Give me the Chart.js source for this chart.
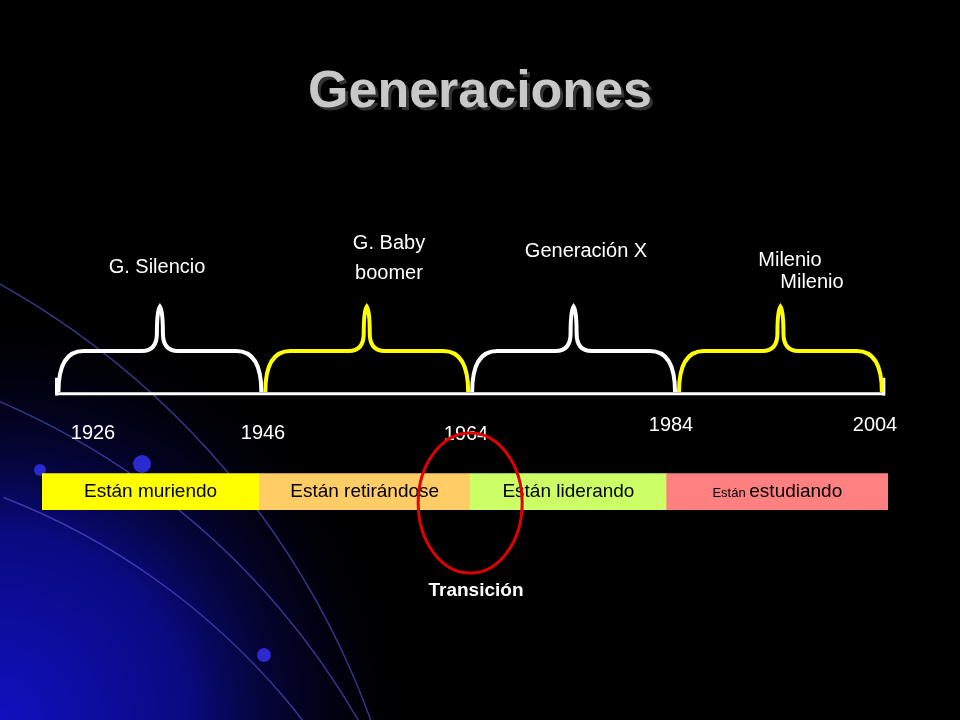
<!DOCTYPE html>
<html><head><meta charset="utf-8">
<script src="https://cdn.jsdelivr.net/npm/chart.js@4"></script>
<style>html,body{margin:0;padding:0;background:#000}canvas{display:block}</style>
</head><body>
<canvas id="c" width="960" height="720" style="width:960px;height:720px"></canvas>
<script>
const years = ['1926','1946','1964','1984','2004'];
const generations = [['G. Silencio'],['G. Baby','boomer'],['Generación X'],['Milenio','Milenio']];
const stages = ['Están muriendo','Están retirándose','Están liderando','Están estudiando'];
const stageStart = [-0.07, 0.98, 2.0, 2.95];
const stageEnd = [0.98, 2.0, 2.95, 4.02];
const stageColors = ['#FFFF00','#FFCC66','#CCFF66','#FF8080'];
const braceColors = ['#FFFFFF','#FFFF00','#FFFFFF','#FFFF00'];
const transitionLabel = 'Transición';
const title = 'Generaciones';

const F = 'Liberation Sans, Arial, sans-serif';
const deco = {
  id:'deco',
  beforeDraw(ch){
    const c=ch.ctx;
    c.save();
    c.fillStyle='#000';c.fillRect(0,0,960,720);
    let g=c.createRadialGradient(0,720,0,0,720,420);
    g.addColorStop(0,'#1010c0');g.addColorStop(0.45,'#0a0a80');g.addColorStop(1,'rgba(0,0,0,0)');
    c.fillStyle=g;c.fillRect(0,250,500,470);
    c.strokeStyle='rgba(90,90,220,0.6)';c.lineWidth=1.5;
    [[-300,1100,760],[-250,1150,700],[-400,1000,820]].forEach(a=>{c.beginPath();c.arc(a[0],a[1],a[2],-1.2,-0.2);c.stroke();});
    c.fillStyle='#2a2ad0';
    [[40,470,6],[142,464,9],[264,655,7]].forEach(d=>{c.beginPath();c.arc(d[0],d[1],d[2],0,7);c.fill();});
    c.restore();
  },
  afterDatasetsDraw(ch){
    const c=ch.ctx, x=ch.scales.x, y=ch.scales.y;
    const X=v=>x.getPixelForValue(v), Y=v=>y.getPixelForValue(v);
    c.save();
    c.font='bold 52px '+F;c.textAlign='center';c.textBaseline='middle';
    c.fillStyle='#333';c.fillText(title,483,96);
    c.fillStyle='#c8c8c8';c.fillText(title,480,93);
    c.strokeStyle='#fff';c.lineWidth=3;
    c.beginPath();c.moveTo(X(0),Y(398));c.lineTo(X(4),Y(398));c.stroke();
    [0,4].forEach(i=>{c.beginPath();c.moveTo(X(i),Y(380));c.lineTo(X(i),Y(400));c.stroke();});
    for(let i=0;i<4;i++){
      const a=X(i)+2,b=X(i+1)-2,m=(a+b)/2;
      c.strokeStyle=braceColors[i];c.lineWidth=4;c.beginPath();
      c.moveTo(a,Y(396));c.quadraticCurveTo(a,Y(350),a+25,Y(350));
      c.lineTo(m-18,Y(350));c.quadraticCurveTo(m-3,Y(350),m-3,Y(330));
      c.quadraticCurveTo(m-3,Y(305),m,Y(300));
      c.quadraticCurveTo(m+3,Y(305),m+3,Y(330));
      c.quadraticCurveTo(m+3,Y(350),m+18,Y(350));
      c.lineTo(b-25,Y(350));c.quadraticCurveTo(b,Y(350),b,Y(396));
      c.stroke();
    }
    c.fillStyle='#fff';c.font='20px '+F;
    const gpos=[[157,[267]],[389,[243,273]],[586,[251]],[790,[260]]];
    generations.forEach((g,i)=>{
      g.forEach((t,j)=>{
        if(i===3&&j===1){c.fillText(t,812,282);}
        else c.fillText(t,gpos[i][0],gpos[i][1][j]);
      });
    });
    const ypos=[[93,433],[263,433],[466,434],[671,425],[875,425]];
    years.forEach((t,i)=>c.fillText(t,ypos[i][0],ypos[i][1]));
    c.fillStyle='#000';
    for(let i=0;i<4;i++){
      const m=(X(stageStart[i])+X(stageEnd[i]))/2;
      if(i===3){
        const parts=stages[i].split(' ');
        c.font='13px '+F;const w1=c.measureText(parts[0]+' ').width;
        c.font='19px '+F;const w2=c.measureText(parts[1]).width;
        const s=m-(w1+w2)/2;c.textAlign='left';
        c.font='13px '+F;c.fillText(parts[0]+' ',s,Y(510));
        c.font='19px '+F;c.fillText(parts[1],s+w1,Y(508));
        c.textAlign='center';
      } else {c.font='19px '+F;c.fillText(stages[i],m,Y(508));}
    }
    c.strokeStyle='#e00000';c.lineWidth=3;
    c.beginPath();c.ellipse(X(2),Y(521),52,70,0,0,Math.PI*2);c.stroke();
    c.fillStyle='#fff';c.font='bold 19px '+F;c.fillText(transitionLabel,476,591);
    c.restore();
  }
};

new Chart(document.getElementById('c'),{
  type:'bar',
  data:{datasets:[{
    data:stageStart.map((s,i)=>({x:[s,stageEnd[i]],y:508})),
    backgroundColor:stageColors,borderWidth:0,barThickness:36,grouped:false
  }]},
  options:{
    indexAxis:'y',responsive:false,animation:false,maintainAspectRatio:false,devicePixelRatio:1,
    layout:{padding:{left:42,right:72,top:0,bottom:0}},
    plugins:{legend:{display:false},tooltip:{enabled:false}},
    scales:{
      x:{type:'linear',min:-0.07,max:4.02,display:false},
      y:{type:'linear',min:0,max:720,reverse:true,display:false}
    }
  },
  plugins:[deco]
});
</script>
</body></html>
